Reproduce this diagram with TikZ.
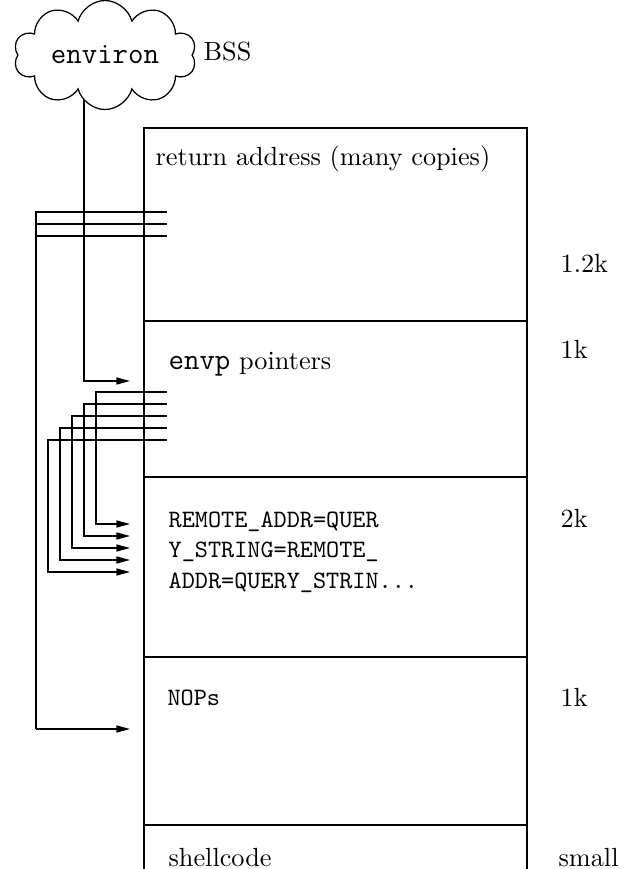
\documentclass[tikz,border=0pt]{standalone}
\usetikzlibrary{shapes.symbols,arrows.meta,backgrounds}
\begin{document}
\begin{tikzpicture}[x=0.4pt,y=-0.4pt,line width=0.5pt,
  arr/.style={line width=0.5pt,-{Triangle[length=5.4pt,width=2.8pt]}},
  rmtext/.style={inner sep=0pt,anchor=base west,font=\fontsize{10.5}{12.6}\selectfont},
  tttext/.style={inner sep=0pt,anchor=base west,font=\fontsize{10}{12}\selectfont\ttfamily},
  bigtt/.style={font=\fontsize{12}{14}\selectfont\ttfamily},
  envcloud/.style={cloud,draw,fill=white,cloud puffs=10,cloud puff arc=150,
    aspect=2,minimum width=73pt,minimum height=35pt,inner sep=0pt}
]
\useasboundingbox (0,0) rectangle (626,869);

% cloud
\node[envcloud,bigtt] (env) at (105,55) {environ};
\node[rmtext] (bss) at (203,60) {BSS};

% memory box
\draw (144,869) -- (144,128) -- (527,128) -- (527,869);
\foreach \y in {321,477,657,825} \draw (144,\y) -- (527,\y);

% texts in box
\node[rmtext] (ret) at (155,165) {return address (many copies)};
\node[rmtext] (envp) at (168,369) {{\fontsize{12}{14}\selectfont\ttfamily envp} pointers};
\node[tttext] (rem1) at (168,527) {REMOTE\_ADDR=QUER};
\node[tttext] (rem2) at (168,557.5) {Y\_STRING=REMOTE\_};
\node[tttext] (rem3) at (168,588) {ADDR=QUERY\_STRIN...};
\node[tttext] (nops) at (167,705) {NOPs};
\node[rmtext] (shell) at (168,866) {shellcode};

% sizes
\node[rmtext] (s1) at (560,272) {1.2k};
\node[rmtext] (s2) at (560,358) {1k};
\node[rmtext] (s3) at (560,527) {2k};
\node[rmtext] (s4) at (560,706) {1k};
\node[rmtext] (s5) at (558,866) {small};

% coordinates
\coordinate (envx) at (84,381);
\coordinate (envin) at (130,381);
\coordinate (r1) at (167,212);
\coordinate (r2) at (167,224);
\coordinate (r3) at (167,236);
\coordinate (nopbend) at (36,729);
\coordinate (nopin) at (130,729);
\foreach \i/\y/\x/\t in {1/392/96/524,2/404/84/536,3/416/72/548,4/428/60/560,5/440/48/572}{
  \coordinate (p\i) at (167,\y);
  \coordinate (b\i) at (\x,\t);
  \coordinate (e\i) at (130,\t);
}

% environ pointer
\begin{scope}[on background layer]
\draw[arr] (env.center -| envx) -- (envx) -- (envin);
\end{scope}

% return address pointers to NOPs
\draw (r1) -| (nopbend);
\draw (r2) -| (nopbend);
\draw (r3) -| (nopbend);
\draw[arr] (nopbend) -- (nopin);

% envp pointers to strings
\foreach \i in {1,...,5}{
  \draw[arr] (p\i) -| (b\i) -- (e\i);
}
\end{tikzpicture}
\end{document}
